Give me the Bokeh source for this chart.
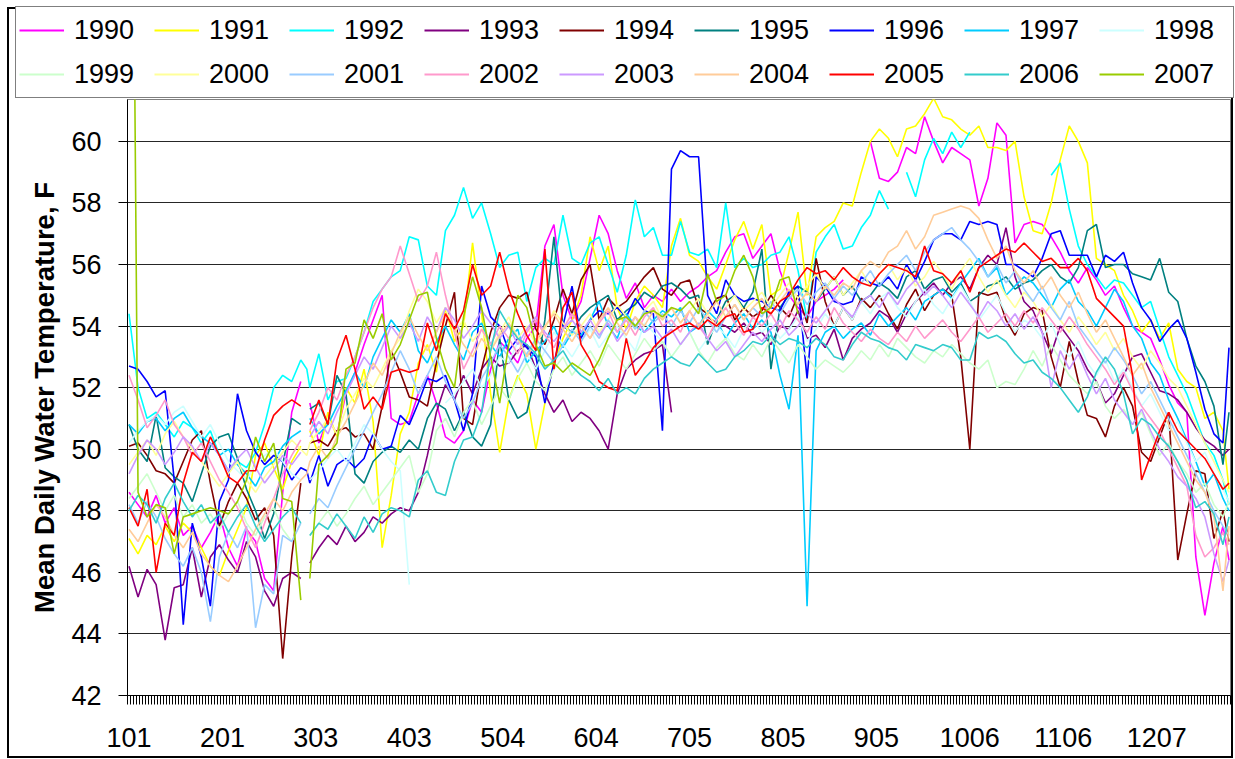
from bokeh.plotting import figure
from bokeh.models import Range1d, FixedTicker, Legend, LegendItem
from bokeh.embed import file_html
from bokeh.resources import INLINE

N = float("nan")

# day-of-year index (0 = Jan 1, 59 = Feb 29, 365 = Dec 31), sampled every 3 days
DAYS = list(range(0, 58, 3)) + [59] + list(range(60, 364, 3)) + [365]

TICK_POS = [0, 31, 62, 93, 124, 155, 186, 217, 248, 279, 310, 341]
TICK_LABELS = ["101", "201", "303", "403", "504", "604", "705", "805", "905", "1006", "1106", "1207"]
Y_TICKS = [42, 44, 46, 48, 50, 52, 54, 56, 58, 60]

YEARS = ["1990", "1991", "1992", "1993", "1994", "1995", "1996", "1997", "1998",
         "1999", "2000", "2001", "2002", "2003", "2004", "2005", "2006", "2007"]
COLORS = ["#FF00FF", "#FFFF00", "#00FFFF", "#800080", "#800000", "#008080", "#0000FF", "#00CCFF", "#CCFFFF",
          "#CCFFCC", "#FFFF99", "#99CCFF", "#FF99CC", "#CC99FF", "#FFCC99", "#FF0000", "#33CCCC", "#99CC00"]

Y1990 = [
    48.6, 48.2, 47.8, 48.5, 47.6, 48.1, 47.2, 47.5, 46.8, 47.3,
    47.9, 46.8, 46.2, 47.4, 47.0, 45.8, 45.4, 48.6, 51.2, 52.2,
    N,
    51.5, 50.2, 51.0, 50.5, 51.8, 52.5, 53.4, 54.2, 55.0, 51.0,
    50.8, 50.9, 51.8, 52.4, 51.5, 50.4, 50.2, 50.6, 51.6, 51.2,
    52.6, 53.5, 53.2, 52.8, 53.6, 54.0, 56.6, 57.3, 55.0, 54.2,
    54.8, 56.2, 57.6, 57.0, 55.8, 54.9, 55.4, 54.6, 55.0, 54.8,
    55.2, 54.8, 55.1, 55.3, 55.6, 55.8, 56.4, 56.9, 57.0, 56.2,
    56.6, 57.0, 55.8, 55.0, 54.6, 54.3, 54.8, 55.0, 55.2, 55.5,
    N, N, 60.0, 58.8, 58.7, 59.0, 59.8, 59.6, 60.8, 60.0,
    59.3, 59.8, 59.6, 59.4, 57.9, 58.8, 60.6, 60.2, 56.7, 57.3,
    57.4, 57.3, 56.9, 56.4, 55.8, 55.4, 55.9, 55.5, 55.0, 55.3,
    54.6, 54.0, 53.8, 53.6, 52.9, 52.1, 51.5, 51.2, 46.5, 44.6,
    46.3, 47.5, 46.4,
]
Y1991 = [
    47.1, 46.6, 47.2, 46.9, 47.5, 47.0, 47.6, 47.3, 46.8, 46.2,
    45.9, 46.7, 47.4, 48.1, 49.8, 50.2, 49.4, 48.7, 49.6, 50.1,
    N,
    50.6, 49.8, 51.2, 50.4, 52.0, 51.5, 52.6, 50.9, 46.8, 48.5,
    50.5, 51.2, 52.8, 53.4, 52.5, 54.6, 53.5, 54.0, 56.7, 54.4,
    51.8, 49.9, 51.6, 52.4, 51.8, 50.0, 51.5, 52.8, 53.6, 54.2,
    55.0, 56.9, 55.8, 56.6, 54.6, 53.9, 54.8, 55.3, 55.0, 54.6,
    56.6, 57.5, 56.3, 56.1, 55.6, 55.2, 56.0, 56.8, 57.4, 56.5,
    57.3, 55.0, 55.2, 56.4, 57.7, 55.0, 56.9, 57.2, 57.4, 58.0,
    57.9, 59.0, 60.0, 60.4, 60.1, 59.5, 60.4, 60.5, 60.9, 61.4,
    60.8, 60.7, 60.4, 60.2, 60.5, 59.8, 59.8, 59.7, 60.0, 58.2,
    57.1, 57.0, 58.0, 59.4, 60.5, 60.0, 59.3, 56.2, 56.0, 55.8,
    55.0, 54.5, 53.8, 54.2, 53.6, 54.1, 52.6, 52.2, 52.0, 51.0,
    51.2, 50.6, 48.7,
]
Y1992 = [
    54.4, 52.0, 51.0, 51.2, 50.8, 50.4, 50.9, 50.7, 50.2, 50.6,
    49.8, 49.3, 49.6, 49.4, 49.9, 50.8, 52.0, 52.4, 52.2, 52.9,
    52.6,
    52.0, 53.1, 51.6, 52.2, 52.3, 53.0, 53.8, 54.8, 55.2, 55.6,
    55.8, 56.9, 56.8, 55.3, 55.0, 57.1, 57.6, 58.5, 57.5, 58.0,
    57.0, 55.9, 56.3, 56.4, 54.8, 55.9, 56.2, 56.0, 57.6, 56.2,
    56.0, 56.7, 56.9, 56.0, 55.1, 56.3, 58.1, 56.9, 57.2, 56.3,
    56.3, 57.4, 56.4, 56.3, 56.5, 55.9, 58.0, 55.9, 56.2, 55.9,
    56.0, 56.3, 56.4, 56.9, 55.8, 54.2, 56.4, 56.9, 57.3, 56.5,
    56.6, 57.2, 57.6, 58.4, 57.8, N, 59.0, 58.2, 59.4, 60.1,
    59.6, 60.3, 59.8, 60.3, N, N, N, N, N, N,
    N, N, 58.9, 59.3, 57.8, 56.6, 56.0, 55.6, 55.2, 55.5,
    55.4, 55.0, 54.6, 54.8, 53.9, 53.0, 52.4, 51.8, 51.0, 50.2,
    49.8, 49.0, 48.2,
]
Y1993 = [
    46.2, 45.2, 46.1, 45.6, 43.8, 45.5, 45.6, 46.8, 45.2, 46.5,
    46.9, 46.4, 46.0, 47.0, 46.5, 45.4, 44.9, 45.8, 46.0, 45.8,
    N,
    46.3, 46.8, 47.2, 46.9, 47.5, 47.0, 47.3, 47.8, 47.6, 47.9,
    48.1, 48.0, 48.6, 49.8, 51.2, 52.1, 51.6, 52.4, 51.8, 52.6,
    53.0, 52.7, 52.8, 53.2, 53.4, 52.6, 51.8, 51.2, 51.6, 50.9,
    51.2, 51.0, 50.6, 50.0, 51.8, 52.6, 52.9, 53.1, 53.2, 53.4,
    51.2, N, N, N, 54.3, 54.1, 54.0, 53.8, 54.1, 53.7,
    53.8, 53.4, 54.0, 53.9, 54.5, 53.6, 53.7, 53.3, 53.9, 52.9,
    53.6, 53.9, 54.1, 54.5, 54.3, 53.8, 54.4, 54.8, 55.1, 55.4,
    55.0, 55.4, 55.6, 55.2, 55.9, 56.3, 56.0, 57.2, 55.6, 54.8,
    54.5, 53.8, 53.1, 54.0, 53.6, 53.2, 52.6, 52.2, 51.5, 51.8,
    52.4, 53.0, 53.1, 52.5, 51.9, 51.8, 51.6, 51.2, 50.7, 50.3,
    50.1, 49.8, 50.0,
]
Y1994 = [
    50.1, 50.2, 49.8, 49.3, 49.2, 48.9, 49.6, 50.3, 50.6, 48.9,
    47.5, 48.3, 48.9, 48.4, 47.7, 48.1, 47.2, 43.2, 46.5, 48.9,
    N,
    50.2, 50.3, 50.1, 50.6, 50.7, 50.4, 50.5, 50.0, 51.4, 53.2,
    52.5, 51.7, 51.6, 51.4, 52.8, 54.0, 55.1, 51.0, 50.8, 52.6,
    53.8, 54.6, 55.0, 54.9, 55.1, 53.9, 53.4, 54.2, 55.2, 54.4,
    55.5, 56.0, 54.2, 54.9, 54.6, 54.8, 55.2, 55.6, 55.9, 55.2,
    55.0, 55.4, 55.5, 54.6, 54.4, 54.9, 55.0, 54.2, 54.6, 54.3,
    54.5, 55.0, 54.6, 54.3, 55.0, 54.1, 56.2, 54.8, 54.0, 54.6,
    54.2, 54.9, 54.6, 55.0, 54.4, 53.9, 54.7, 55.2, 54.5, 55.0,
    55.2, 55.0, 53.0, 50.0, 55.1, 55.0, 55.1, 54.2, 53.7, 54.4,
    54.6, 54.5, 53.0, 52.0, 53.5, 52.2, 51.1, 51.0, 50.4, 51.4,
    52.0, 51.4, 49.9, 49.6, 50.4, 51.2, 46.4, 47.9, 49.3, 49.2,
    47.1, 48.0, 47.0,
]
Y1995 = [
    50.8, 50.0, 49.6, 51.1, 49.4, 49.1, 48.9, 48.3, 49.2, 50.1,
    50.4, 50.5, 49.7, 48.7, 48.0, 47.1, 47.9, 49.5, 51.0, 50.8,
    N,
    51.3, 51.5, 50.8, 52.4, 51.8, 49.2, 48.9, 49.6, 49.9, 50.1,
    49.9, 50.3, 50.0, 51.0, 51.5, 51.3, 50.6, 51.2, 50.4, 50.1,
    50.8, 53.6, 51.6, 51.0, 51.2, 52.4, 54.2, 56.9, 54.0, 53.8,
    54.3, 54.6, 54.8, 55.0, 54.2, 54.5, 54.7, 55.1, 54.9, 55.3,
    55.4, 55.2, 54.9, 55.0, 53.4, 54.2, 54.8, 55.0, 54.6, 55.1,
    56.5, 52.6, 54.6, 55.0, 55.3, 55.1, 54.8, 55.2, 55.6, 55.0,
    55.3, 54.8, 55.0, 55.4, 55.2, 54.9, 55.6, 55.8, 55.2, 55.5,
    55.6, 55.1, 55.4, 54.8, 55.0, 55.3, 55.4, 55.6, 55.2, 55.4,
    55.5, 55.8, 56.0, 55.6, 55.4, 55.9, 57.1, 57.3, 55.9, 56.0,
    56.0, 55.7, 55.6, 55.5, 56.2, 55.1, 54.8, 53.6, 52.7, 52.2,
    51.4, 49.5, 51.2,
]
Y1996 = [
    52.7, 52.6, 52.2, 51.7, 51.9, 49.0, 44.3, 47.6, 46.5, 44.9,
    48.3, 49.0, 51.8, 50.6, 49.9, 49.5, 49.8, 49.6, 49.0, 49.4,
    49.3,
    48.9, 49.8, 48.8, 49.5, 49.7, 49.4, 49.7, 50.5, 50.0, 50.1,
    51.1, 50.8, 51.5, 52.3, 52.2, 52.4, 51.6, 50.6, 51.8, 55.3,
    54.3, 54.0, 53.2, 53.6, 53.3, 53.0, 51.5, 52.8, 54.0, 55.3,
    53.6, 54.2, 54.5, 54.4, 54.6, 54.3, 54.9, 54.5, 54.4, 50.6,
    59.1, 59.7, 59.5, 59.5, 55.0, 54.4, 55.5, 55.0, 54.8, 54.9,
    54.8, 54.6, 54.5, 55.1, 55.3, 52.3, 55.6, 55.3, 54.8, 54.7,
    54.8, 55.6, 55.4, 55.3, 55.6, 55.2, 56.0, 55.5, 56.1, 56.8,
    57.0, 57.0, 56.8, 57.4, 57.3, 57.4, 57.3, 56.0, 56.0, 55.8,
    55.6, 56.2, 57.0, 57.1, 56.3, 56.3, 56.3, 55.6, 56.3, 56.1,
    56.4, 55.4, 54.6, 54.2, 53.5, 53.9, 54.2, 53.6, 52.5, 51.3,
    50.5, 50.2, 53.3,
]
Y1997 = [
    50.8, 50.5, 50.9, 51.0, 50.6, 51.0, 51.2, 50.7, 50.4, 50.2,
    49.8, 50.0, 49.5, 49.2, 48.8, 49.4, 49.6, 50.1, 50.4, 50.6,
    N,
    51.0, 50.5, 50.8, 51.4, 51.9, 52.5, 52.0, 53.0, 53.6, 54.2,
    53.8, 54.4, 53.2, 52.8, 53.5, 54.0, 53.4, 52.9, 53.8, 54.1,
    53.4, 53.0, 53.6, 53.9, 52.8, 53.2, 53.5, 54.0, 53.3, 53.8,
    53.7, 54.2, 54.8, 54.0, 53.6, 54.4, 54.0, 53.8, 54.2, 54.5,
    54.3, 54.6, 53.8, 54.0, 54.5, 54.2, 53.6, 54.1, 54.4, 53.9,
    54.2, 53.8, 52.4, 51.3, 53.7, 44.9, 53.2, 53.8, 54.0, 53.6,
    53.9, 54.1, 53.7, 54.4, 54.0, 54.3, 54.6, 54.2, 54.8, 55.0,
    55.2, 54.9, 55.4, 55.8, 56.2, 55.6, 55.9, 55.0, 55.3, 55.6,
    55.4, 55.0, 54.6, 55.2, 55.5, 54.8, 54.5, 54.0, 54.6, 55.2,
    54.8, 54.0, 53.6, 52.8, 52.4, 51.6, 51.0, 50.3, 49.6, 48.8,
    49.2, 48.4, 48.0,
]
Y1998 = [
    50.2, 50.6, 50.9, 51.1, 50.8, 51.2, 51.4, 50.9, 50.4, 50.8,
    50.2, 49.6, 49.3, 49.0, 49.5, 49.8, 50.0, 49.6, 49.2, 49.0,
    N,
    49.0, 49.3, 49.7, 50.0, 49.6, 50.2, 50.8, 50.5, 50.0, 49.6,
    49.3, 45.6, N, N, N, 51.5, 51.8, 52.2, 52.6, 52.0,
    52.4, 53.0, 52.8, 53.5, 53.1, 52.6, 53.2, 53.8, 53.4, 53.0,
    53.5, 53.9, 53.3, 53.7, 54.0, 53.6, 53.2, 54.1, 53.8, 53.5,
    53.0, 53.4, 53.8, 53.2, 53.6, 54.0, 53.7, 53.3, 53.9, 54.2,
    53.8, 54.1, 53.6, 53.9, 54.3, 53.5, 53.9, 54.4, 54.0, 54.6,
    54.2, 54.8, 54.4, 54.9, 55.1, 54.6, 54.3, 54.8, 55.2, 54.7,
    54.4, 54.9, 55.3, 54.8, 54.2, 54.6, 55.0, 54.4, 53.8, 54.2,
    54.0, 53.6, 54.1, 53.4, 53.0, 53.5, 52.8, 52.4, 52.9, 52.2,
    52.6, 52.0, 51.4, 51.8, 51.2, 50.6, 50.9, 50.2, 49.6, 49.9,
    49.2, 48.7, 48.3,
]
Y1999 = [
    48.4, 48.8, 49.2, 48.6, 48.0, 48.5, 47.8, 48.2, 47.6, 47.9,
    47.4, 47.9, 48.3, 47.6, 47.2, 47.8, 48.1, 47.4, 47.0, 47.6,
    N,
    47.2, 47.6, 48.0, 47.5, 47.9, 48.4, 48.8, 48.2, 48.6, 49.0,
    49.4, 49.8, 48.6, 49.2, 50.6, 51.0, 50.4, 51.2, 51.6, 50.8,
    51.4, 52.0, 51.6, 52.3, 52.8, 52.2, 51.9, 52.6, 53.0, 52.4,
    52.8, 53.2, 52.7, 53.4, 53.0, 52.6, 53.1, 53.6, 53.2, 53.5,
    53.0, 53.4, 53.8, 53.2, 52.8, 53.3, 53.6, 53.1, 52.9, 53.4,
    53.0, 53.6, 53.2, 52.8, 53.4, 53.0, 52.6, 52.9, 52.7, 52.5,
    52.8, 53.2, 52.9, 53.4, 53.0, 53.6, 53.3, 53.0, 52.8, 53.2,
    53.0, 53.4, 53.1, 52.8, 52.6, 52.9, 52.0, 52.2, 52.1, 52.6,
    53.2, 52.7, 53.4, 52.9, 52.4, 52.1, 51.8, 52.2, 51.4, 51.0,
    51.3, 50.8, 51.2, 50.5, 49.8, 50.2, 49.6, 49.2, 48.6, 48.9,
    48.2, 47.8, 48.3,
]
Y2000 = [
    49.5, 49.9, 50.3, 49.8, 50.5, 50.9, 50.4, 50.0, 49.6, 49.2,
    48.8, 49.2, 49.6, 49.0, 48.6, 49.1, 49.5, 49.9, 50.3, 50.0,
    49.8,
    50.2, 50.6, 51.0, 50.5, 51.3, 51.8, 52.3, 52.0, 52.6, 53.2,
    53.6, 54.5, 55.2, 54.8, 54.1, 54.6, 53.8, 54.2, 53.5, 53.9,
    53.2, 53.8, 54.3, 53.6, 54.0, 53.4, 53.9, 54.5, 54.1, 53.7,
    54.0, 54.4, 53.8, 54.2, 54.7, 54.3, 53.9, 54.5, 54.8, 54.2,
    54.6, 54.1, 54.5, 54.9, 54.4, 54.0, 54.6, 55.0, 54.5, 54.8,
    55.1, 54.6, 55.0, 55.4, 54.9, 55.3, 55.7, 55.2, 55.6, 55.0,
    55.4, 55.8, 55.3, 55.7, 56.0, 55.5, 55.9, 55.3, 55.6, 56.1,
    55.7, 55.2, 55.8, 56.2, 55.6, 55.1, 55.5, 55.0, 54.6, 55.1,
    54.8, 54.3, 54.7, 54.2, 53.8, 54.3, 53.9, 53.4, 53.8, 53.2,
    53.6, 53.0, 52.6, 53.2, 52.8, 52.3, 52.0, 51.4, 50.8, 50.2,
    49.6, 49.0, 48.6,
]
Y2001 = [
    48.2, 47.6, 48.3, 47.8, 47.1, 46.6, 46.2, 46.8, 46.0, 44.4,
    46.5, 47.3, 46.8, 47.5, 44.2, 45.6, 45.3, 47.2, 47.0, 47.6,
    N,
    47.9, 48.4, 48.1, 48.8, 49.4, 50.0, 50.6, 51.2, 51.8, 52.5,
    53.2, 52.6, 51.8, 52.4, 53.0, 52.2, 51.6, 51.0, 51.5, 52.3,
    52.8, 53.4, 53.0, 52.5, 53.1, 53.6, 53.2, 52.8, 53.4, 53.9,
    53.5, 54.0, 53.6, 54.2, 53.8, 54.3, 53.9, 54.5, 54.1, 54.4,
    54.0, 54.5, 54.1, 54.6, 54.2, 53.8, 54.3, 54.7, 54.2, 54.6,
    54.3, 54.8, 54.4, 54.9, 55.2, 54.7, 55.1, 55.4, 54.9, 55.3,
    55.0, 55.4, 55.8, 55.3, 55.7, 56.0, 56.3, 55.8, 56.4, 56.8,
    57.0, 57.2, 56.8, 56.5, 56.1, 55.6, 56.0, 55.4, 55.8, 55.2,
    54.8, 55.3, 54.6, 54.2, 54.8, 54.0, 53.6, 53.2, 52.8, 53.3,
    52.9, 52.4, 51.8, 52.2, 51.6, 51.0, 50.4, 49.8, 49.2, 48.6,
    48.0, 47.5, 47.2,
]
Y2002 = [
    52.4, 51.6, 50.7, 51.1, 51.6, 50.8, 50.4, 49.8, 50.2, 49.6,
    49.0, 48.6, 48.1, 47.4, 46.8, 47.6, 48.4, 49.2, 49.8, 50.3,
    N,
    50.6, 51.2, 52.0, 51.6, 52.4, 53.0, 53.8, 54.6, 55.2, 55.6,
    56.6, 55.7, 54.8, 55.3, 56.4, 55.0, 53.8, 52.6, 53.2, 53.9,
    53.4, 54.0, 53.6, 53.1, 53.8, 54.2, 53.7, 53.3, 53.9, 54.4,
    54.0, 53.6, 54.1, 54.5, 53.8, 54.2, 53.7, 54.3, 54.6, 54.0,
    54.2, 53.8, 54.5, 54.0, 53.6, 54.2, 54.6, 54.1, 53.7, 54.3,
    54.0, 54.4, 53.9, 54.5, 54.2, 53.8, 54.3, 53.9, 54.6, 54.1,
    53.8, 53.5, 53.9, 53.6, 53.4, 53.8, 53.5, 54.0, 53.6, 53.9,
    54.2, 53.8, 53.5, 53.9, 54.3, 53.8, 54.1, 54.4, 54.0, 54.5,
    54.1, 54.6, 54.2, 53.8, 54.3, 53.9, 53.4, 53.0, 52.6, 52.1,
    52.5, 51.9, 51.4, 51.0, 50.6, 50.0, 49.4, 48.8, 47.2, 46.5,
    46.8, 47.3, 46.9,
]
Y2003 = [
    49.2, 49.8, 50.3, 50.0, 49.5, 49.9, 50.4, 50.1, 49.6, 50.2,
    49.8, 49.3, 49.7, 50.0, 49.4, 48.9, 49.3, 49.8, 49.5, 49.9,
    N,
    50.4, 50.9, 50.5, 51.2, 51.8, 52.4, 53.0, 52.6, 53.3, 54.0,
    53.6, 54.1, 53.5, 54.3, 53.8, 54.6, 54.2, 53.6, 54.0, 54.5,
    54.1, 53.6, 54.0, 53.4, 53.9, 54.3, 53.8, 53.5, 53.9, 54.2,
    53.8, 54.2, 53.7, 54.1, 53.5, 53.9, 54.3, 53.8, 54.0, 53.6,
    53.9, 53.4, 53.8, 54.1, 53.6, 53.2, 53.5, 53.0, 53.4, 53.8,
    53.5, 53.9, 54.2, 53.7, 54.0, 54.4, 54.1, 54.5, 54.9, 54.6,
    54.3, 54.8, 55.0, 54.6, 55.1, 54.7, 55.2, 55.5, 55.0, 55.3,
    55.0, 54.6, 55.1, 54.7, 54.3, 54.8, 54.5, 54.0, 54.4, 53.9,
    54.3, 53.8, 52.0, 53.2, 52.6, 53.1, 52.4, 51.8, 52.3, 51.6,
    51.2, 50.8, 51.3, 50.6, 50.0, 49.6, 49.1, 48.8, 48.4, 47.8,
    46.6, 45.7, 46.4,
]
Y2004 = [
    47.4, 47.0, 47.6, 48.2, 47.8, 47.2, 46.8, 47.3, 46.6, 46.2,
    45.9, 45.7, 46.2, 46.8, 47.4, 47.9, 48.4, 48.0, 48.6, 49.0,
    49.2,
    49.6, 50.1, 49.7, 50.4, 50.9, 51.5, 52.1, 52.8, 52.4, 53.1,
    53.8, 54.3, 53.7, 53.2, 53.8, 54.4, 53.9, 53.4, 53.0, 53.6,
    53.2, 53.7, 54.1, 53.6, 53.0, 53.5, 54.0, 54.4, 53.9, 53.5,
    54.0, 53.6, 54.2, 54.6, 54.1, 53.7, 54.3, 54.0, 54.5, 54.2,
    54.6, 54.1, 54.5, 54.0, 54.4, 54.8, 54.3, 54.7, 54.2, 54.6,
    54.9, 54.4, 54.8, 55.2, 54.7, 55.1, 54.8, 55.3, 55.0, 55.4,
    55.2, 55.8, 56.1, 55.9, 56.4, 56.6, 57.1, 56.5, 56.9, 57.6,
    57.7, 57.8, 57.9, 57.8, 57.5, 56.8, 56.2, 56.6, 55.8, 55.4,
    55.8, 55.2, 55.6, 55.0, 54.6, 55.1, 54.4, 53.8, 54.2, 53.6,
    53.0, 52.4, 52.8, 52.0, 51.4, 50.8, 50.2, 49.6, 49.0, 48.6,
    47.8, 45.4, 47.5,
]
Y2005 = [
    48.1, 47.5, 48.7, 46.0, 47.6, 47.2, 48.9, 49.9, 49.6, 50.4,
    49.8, 49.1, 48.9, 49.3, 49.3, 50.3, 51.1, 51.4, 51.6, 51.4,
    N,
    50.8, 51.6, 50.8, 52.9, 53.7, 52.6, 51.3, 51.7, 51.3, 52.5,
    52.6, 52.5, 52.6, 54.1, 53.2, 54.4, 53.9, 54.5, 56.0, 55.0,
    55.3, 56.4, 55.2, 54.4, 53.7, 53.2, 56.5, 52.6, 54.6, 55.1,
    53.4, 52.9, 52.2, 52.0, 51.9, 53.6, 52.4, 52.8, 53.3, 53.6,
    53.8, 54.0, 54.1, 53.9, 54.2, 54.0, 54.3, 54.4, 53.8, 53.9,
    54.6, 54.4, 54.8, 55.0, 55.5, 55.9, 55.7, 55.8, 55.5, 55.9,
    55.6, 55.4, 55.3, 55.7, 56.0, 55.9, 55.8, 55.6, 56.6, 55.8,
    55.7, 55.4, 55.8, 55.1, 55.9, 56.1, 56.3, 56.5, 56.4, 56.7,
    56.4, 56.1, 56.2, 55.9, 55.9, 56.2, 55.8, 54.9, 54.6, 54.3,
    54.0, 52.4, 49.0, 49.8, 50.6, 51.2, 50.6, 50.3, 50.0, 49.7,
    49.2, 48.7, 48.9,
]
Y2006 = [
    48.0, 48.5, 48.2, 47.6, 48.4, 48.9, 48.3, 47.8, 48.2, 47.6,
    47.9, 47.3, 47.8, 48.2, 47.5, 47.0, 47.4, 47.8, 48.1, 47.6,
    N,
    47.2, 47.6, 47.4, 47.9, 47.5, 47.1, 47.8, 47.3, 47.9, 48.1,
    48.0, 47.8, 49.0, 49.3, 48.6, 48.5, 49.6, 50.3, 50.4, 51.2,
    53.2, 54.5, 54.0, 53.6, 53.4, 53.1, 52.6, 52.9, 53.2, 52.7,
    52.4, 52.2, 51.9, 52.3, 51.8, 52.0, 51.8, 52.3, 52.6, 52.8,
    53.0, 52.8, 52.7, 53.1, 52.8, 52.5, 52.6, 53.0, 53.2, 53.5,
    53.4, 53.7, 53.4, 53.6, 53.5, 53.3, 53.6, 53.4, 53.0, 52.9,
    53.4, 53.8, 53.6, 53.5, 53.3, 53.2, 52.9, 53.4, 53.3, 53.2,
    53.4, 53.3, 52.9, 52.9, 53.8, 53.6, 53.7, 53.5, 53.1, 52.8,
    52.9, 52.5, 52.3, 52.0, 51.6, 51.2, 51.7, 52.5, 53.0, 52.6,
    51.8, 50.5, 51.0, 50.8, 50.4, 50.1, 49.6, 49.0, 48.1, 48.3,
    47.9, 46.9, 47.8,
]
Y2007 = [
    85.0, 48.6, 47.8, 48.2, 48.1, 46.6, 47.8, 47.9, 48.0, 48.1,
    48.0, 47.9, 48.3, 49.0, 50.4, 49.6, 50.2, 48.4, 48.3, 45.1,
    N,
    45.8, 49.5, 49.8, 50.2, 52.6, 52.8, 54.2, 53.6, 54.4, 52.9,
    53.4, 54.2, 55.0, 55.1, 53.6, 52.6, 52.0, 54.3, 55.6, 54.6,
    53.0, 51.5, 53.4, 55.0, 54.6, 53.4, 52.7, 52.8, 52.5, 52.8,
    52.6, 52.4, 52.9, 53.6, 54.2, 54.3, 54.0, 54.4, 54.5, 54.3,
    54.6, 54.5, 54.8, 54.4, 55.7, 54.8, 55.0, 55.8, 56.3, 55.6,
    54.4, 54.6, 55.5, 55.6, 54.4, N, N, N, N, N,
    N, N, N, N, N, N, N, N, N, N,
    N, N, N, N, N, N, N, N, N, N,
    N, N, N, N, N, N, N, N, N, N,
    N, N, N, N, N, N, N, N, N, N,
    N, N, N,
]

SERIES = [Y1990, Y1991, Y1992, Y1993, Y1994, Y1995, Y1996, Y1997, Y1998,
          Y1999, Y2000, Y2001, Y2002, Y2003, Y2004, Y2005, Y2006, Y2007]

for name, s in zip(YEARS, SERIES):
    if len(s) != len(DAYS):
        raise ValueError(f"{name}: {len(s)} values, expected {len(DAYS)}")

FONT = "Liberation Sans"
LINE_W = 1.6

# ---------------- legend strip (top), its own root so its frame spans the whole width ----------------
LEG_CSS = ("inset 7px 7px 0 0 #ffffff, inset -1px 0 0 0 #ffffff, "
           "inset 9px 9px 0 0 #000000, inset -3px 0 0 0 #000000")
leg = figure(width=1234, height=99, output_backend="svg", toolbar_location=None,
             x_range=Range1d(0, 1), y_range=Range1d(0, 1),
             x_axis_location=None, y_axis_location=None,
             min_border=0, min_border_left=0, min_border_right=0,
             min_border_top=0, min_border_bottom=0,
             styles={"box-shadow": LEG_CSS})
leg.background_fill_alpha = 0.0
leg.border_fill_alpha = 0.0
leg.outline_line_color = None
leg.grid.visible = False

items = []
for name, color in zip(YEARS, COLORS):
    key = leg.line([N], [N], line_color=color, line_width=2)   # legend key only, no visible mark
    items.append(LegendItem(label=name, renderers=[key]))

legend = Legend(items=items, orientation="horizontal", ncols=9,
                location=(15, 1), margin=0, padding=3, spacing=4,
                glyph_width=45, glyph_height=40, label_height=40, label_width=76,
                label_standoff=10,
                label_text_font=FONT, label_text_font_size="27px", label_text_color="black",
                border_line_color="black", border_line_width=1,
                background_fill_color="white", background_fill_alpha=1.0)
leg.add_layout(legend)

# ---------------- main chart ----------------
MAIN_CSS = ("inset 7px 0 0 0 #ffffff, inset -1px 0 0 0 #ffffff, "
            "inset 9px 0 0 0 #000000, inset -3px -2px 0 0 #000000")
p = figure(width=1234, height=659, output_backend="svg", toolbar_location=None,
           x_range=Range1d(-0.5, 365.5), y_range=Range1d(42, 61.36),
           min_border_left=127, min_border_right=4, min_border_top=0, min_border_bottom=63,
           background_fill_color="white",
           styles={"box-shadow": MAIN_CSS})
p.border_fill_alpha = 0.0
p.outline_line_color = "#808080"
p.outline_line_width = 1

for color, s in zip(COLORS, SERIES):
    p.line(DAYS, s, line_color=color, line_width=LINE_W)

# x axis
p.xaxis.ticker = FixedTicker(ticks=TICK_POS, minor_ticks=[i - 0.5 for i in range(367)])
p.xaxis.major_label_overrides = {pos: lab for pos, lab in zip(TICK_POS, TICK_LABELS)}
p.xaxis.major_tick_line_color = None
p.xaxis.major_tick_out = 0
p.xaxis.major_tick_in = 0
p.xaxis.minor_tick_out = 9
p.xaxis.minor_tick_in = 0
p.xaxis.minor_tick_line_color = "black"
p.xaxis.axis_line_color = "black"
p.xaxis.major_label_text_font = FONT
p.xaxis.major_label_text_font_size = "27px"
p.xaxis.major_label_text_color = "black"
p.xaxis.major_label_standoff = 23

# y axis
p.yaxis.ticker = FixedTicker(ticks=Y_TICKS)
p.yaxis.major_tick_out = 9
p.yaxis.major_tick_in = 0
p.yaxis.minor_tick_line_color = None
p.yaxis.axis_line_color = "black"
p.yaxis.major_tick_line_color = "black"
p.yaxis.major_label_text_font = FONT
p.yaxis.major_label_text_font_size = "27px"
p.yaxis.major_label_text_color = "black"
p.yaxis.major_label_standoff = 17
p.yaxis.axis_label = "Mean Daily Water Temperature, F"
p.yaxis.axis_label_text_font = FONT
p.yaxis.axis_label_text_font_size = "27.5px"
p.yaxis.axis_label_text_font_style = "bold"
p.yaxis.axis_label_text_color = "black"
p.yaxis.axis_label_standoff = 8

p.xgrid.visible = False
p.ygrid.ticker = FixedTicker(ticks=Y_TICKS)
p.ygrid.grid_line_color = "black"
p.ygrid.grid_line_width = 1
p.ygrid.grid_line_alpha = 0.85

open("out.html", "w").write(file_html([leg, p], INLINE))
